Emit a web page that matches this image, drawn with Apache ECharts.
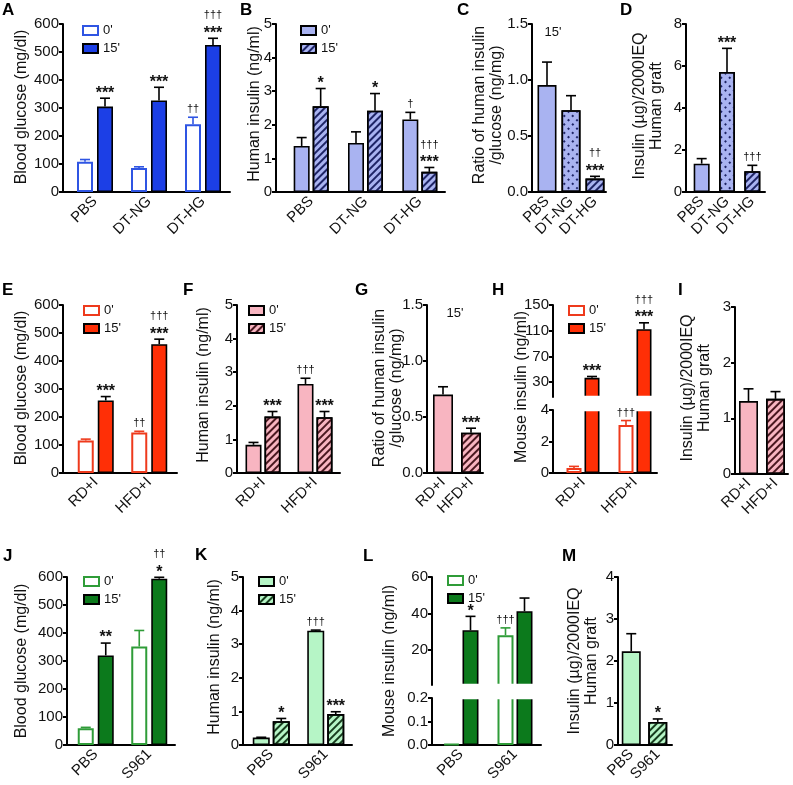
<!DOCTYPE html>
<html><head><meta charset="utf-8">
<script src="https://cdn.jsdelivr.net/npm/echarts@6/dist/echarts.min.js"></script>
<style>html,body{margin:0;padding:0;background:#fff}#c{width:793px;height:785px}</style>
</head><body><div id="c"></div>
<script>
// ================= DATA =================
// Panel A
const catsDT = ['PBS', 'DT-NG', 'DT-HG'];
const ticksGlu = [0, 100, 200, 300, 400, 500, 600];
const gluA0 = [108, 86, 242];
const gluA0Err = [8, 4, 25];
const gluA15 = [305, 327, 525];
const gluA15Err = [30, 47, 24];
const sigA0 = [[], [], ['††']];
const sigA15 = [['***'], ['***'], ['***', '†††']];
// Panel B
const ticksIns = [0, 1, 2, 3, 4, 5];
const insB0 = [1.37, 1.46, 2.16];
const insB0Err = [0.25, 0.33, 0.21];
const insB15 = [2.55, 2.42, 0.60];
const insB15Err = [0.53, 0.51, 0.13];
const sigB0 = [[], [], ['†']];
const sigB15 = [['*'], ['*'], ['***', '†††']];
// Panel C
const ticksRatio = [0, 0.5, 1.0, 1.5];
const ratioC = [0.955, 0.73, 0.12];
const ratioCErr = [0.205, 0.13, 0.02];
const sigC = [[], [], ['***', '††']];
// Panel D
const ticksD = [0, 2, 4, 6, 8];
const graftD = [1.35, 5.72, 0.99];
const graftDErr = [0.24, 1.12, 0.28];
const sigD = [[], ['***'], ['†††']];
// Panel E
const catsDiet = ['RD+I', 'HFD+I'];
const gluE0 = [116, 145];
const gluE0Err = [5, 4];
const gluE15 = [259, 460];
const gluE15Err = [14, 18];
const sigE0 = [[], ['††']];
const sigE15 = [['***'], ['***', '†††']];
// Panel F
const insF0 = [0.84, 2.65];
const insF0Err = [0.07, 0.17];
const insF15 = [1.68, 1.66];
const insF15Err = [0.15, 0.17];
const sigF0 = [[], ['†††']];
const sigF15 = [['***'], ['***']];
// Panel G
const ratioG = [0.70, 0.36];
const ratioGErr = [0.07, 0.04];
const sigG = [[], ['***']];
// Panel H (broken axis)
const ticksHUpper = [30, 70, 110, 150];
const ticksHLower = [0, 2, 4];
const mouseH0 = [0.32, 3.05];
const mouseH0Err = [0.10, 0.28];
const mouseH15 = [36.8, 112.4];
const mouseH15Err = [2.1, 9.9];
const sigH0 = [[], ['†††']];
const sigH15 = [['***'], ['***', '†††']];
// Panel I
const ticksI = [0, 1, 2, 3];
const graftI = [1.31, 1.35];
const graftIErr = [0.22, 0.13];
// Panel J
const catsS = ['PBS', 'S961'];
const gluJ0 = [60, 352];
const gluJ0Err = [3, 57];
const gluJ15 = [320, 594];
const gluJ15Err = [44, 5];
const sigJ15 = [['**'], ['*', '††']];
// Panel K
const insK0 = [0.22, 3.40];
const insK0Err = [0.01, 0.02];
const insK15 = [0.71, 0.92];
const insK15Err = [0.08, 0.07];
const sigK0 = [[], ['†††']];
const sigK15 = [['*'], ['***']];
// Panel L (broken axis)
const ticksLUpper = [20, 40, 60];
const ticksLLower = [0, 0.1, 0.2];
const mouseL0 = [0.005, 28.2];
const mouseL0Err = [0, 4.0];
const mouseL15 = [30.9, 41.3];
const mouseL15Err = [7.6, 7.2];
const sigL0 = [[], ['†††']];
const sigL15 = [['*'], []];
// Panel M
const ticksM = [0, 1, 2, 3, 4];
const graftM = [2.23, 0.55];
const graftMErr = [0.42, 0.07];
const sigM = [[], ['*']];

// ================= STYLE =================
const FONT = 'Liberation Sans';
const blue = '#1c3fe6', blueLine = '#2f55e3', peri = '#a9b3f1', periInk = '#1e2466';
const red = '#ff2f06', redLine = '#ee3a1c', pink = '#f8b5c1', pinkInk = '#4a1820';
const green = '#0c7a1c', greenLine = '#2f9c38', lgreen = '#b6f5c6', lgreenInk = '#173d1e';
function hatch(c) { return { symbol: 'rect', symbolSize: 1, dashArrayX: [1, 0], dashArrayY: [1.3, 2.7], rotation: -Math.PI / 4, color: c }; }
function dots(c) { return { symbol: 'rect', symbolSize: 1, dashArrayX: [1.3, 3.7], dashArrayY: [1.3, 3.7], rotation: Math.PI / 4, color: c }; }
const solid = c => ({ color: c, borderColor: '#000', borderWidth: 1.6 });
const open = c => ({ color: '#fff', borderColor: c, borderWidth: 2 });

const grids = [], xAxes = [], yAxes = [], series = [], legends = [], graphics = [];

function errRenderer(b, slot) {
  return function (params, api) {
    const i = params.dataIndex;
    const v = b.vals[i];
    const e = b.errs ? b.errs[i] : 0;
    const base = api.coord([i, v]);
    const x = base[0] + slot;
    let yTop = base[1];
    const ec = b.errColor || '#000';
    const children = [];
    if (e) {
      const top = api.coord([i, v + e]);
      yTop = top[1];
      children.push({ type: 'line', shape: { x1: x, y1: base[1], x2: x, y2: yTop }, style: { stroke: ec, lineWidth: 1.6 } });
      children.push({ type: 'line', shape: { x1: x - 5, y1: yTop, x2: x + 5, y2: yTop }, style: { stroke: ec, lineWidth: 1.6 } });
    }
    const mk = (b.marks && b.marks[i]) || [];
    let c = yTop - 8;
    mk.forEach(m => {
      const ast = m.indexOf('*') >= 0;
      children.push({ type: 'text', x: x, y: ast ? c + 3 : c,
        style: { text: m, fill: '#111', font: ast ? 'bold 16px ' + FONT : '11px ' + FONT, align: 'center', verticalAlign: 'middle' } });
      c -= 15;
    });
    return { type: 'group', children };
  };
}

function addGridAxes(g, x, y) { grids.push(g); xAxes.push(Object.assign({ gridIndex: grids.length - 1 }, x)); yAxes.push(Object.assign({ gridIndex: grids.length - 1 }, y)); return grids.length - 1; }

function panel(o) {
  const fmt = o.fmt || (v => String(v));
  const g = addGridAxes(
    { left: o.left, top: o.top, width: o.right - o.left, height: o.bottom - o.top },
    { type: 'category', data: o.cats, axisLine: { show: false }, axisTick: { show: false },
      axisLabel: { show: !o.hideX, rotate: 45, interval: 0, fontSize: 15, color: '#111', fontFamily: FONT, margin: 7 } },
    { type: 'value', min: o.min, max: o.max, offset: o.left - o.axisX,
      axisLine: { show: true, onZero: false, lineStyle: { color: '#000', width: 2 } },
      axisTick: { show: true, length: 4, customValues: o.ticks, lineStyle: { color: '#000', width: 2 } },
      axisLabel: { customValues: o.ticks, fontSize: 15, color: '#111', fontFamily: FONT, margin: 4, formatter: fmt },
      splitLine: { show: false } });
  if (!o.hideX) {
    addGridAxes(
      { left: o.axisX, top: o.bottom - 10, width: o.frameRight - o.axisX, height: 10 },
      { type: 'value', min: 0, max: 1, axisLine: { show: true, onZero: false, lineStyle: { color: '#000', width: 2 } }, axisTick: { show: false }, axisLabel: { show: false }, splitLine: { show: false } },
      { type: 'value', show: false, min: 0, max: 1 });
  }
  const n = o.bars.length;
  o.bars.forEach((b, k) => {
    const slot = n === 1 ? 0 : (k === 0 ? -1 : 1) * (o.bw + (o.gap || 0)) / 2;
    const data = b.vals.map((v, i) => (b.itemDecals && b.itemDecals[i]) ? { value: v, itemStyle: { decal: b.itemDecals[i] } } : v);
    const st = Object.assign({}, b.style);
    if (b.decal) st.decal = b.decal;
    series.push({ type: 'bar', name: b.name, xAxisIndex: g, yAxisIndex: g, data, barWidth: o.bw,
      barGap: ((o.gap || 0) / o.bw * 100) + '%', itemStyle: st, clip: true, silent: true, animation: false, z: 2 });
    if (b.errs || b.marks) {
      series.push({ type: 'custom', xAxisIndex: g, yAxisIndex: g, clip: false, silent: true, z: 5, animation: false,
        data: b.vals.map((v, i) => [i, v]), renderItem: errRenderer(b, slot) });
    }
  });
}

// white band over the axis break (hides clipped bar edges)
function breakBand(axisX, right, y1, y2) {
  graphics.push({ type: 'rect', z: 4, silent: true, shape: { x: axisX + 1.5, y: y1 - 1.2, width: right - axisX, height: y2 - y1 + 2.4 }, style: { fill: '#fff' } });
}
function legend(x, y, names) {
  legends.push({ left: x, top: y - 3, orient: 'vertical', padding: 0, itemWidth: 15, itemHeight: 9, itemGap: 5, icon: 'rect',
    selectedMode: false, data: names, formatter: nm => nm.endsWith('15') ? "15'" : "0'",
    textStyle: { fontSize: 13, color: '#111', fontFamily: FONT } });
}
function title(x, y, text) {
  graphics.push({ type: 'text', x, y, rotation: Math.PI / 2, style: { text, font: '16px ' + FONT, fill: '#111', align: 'center', verticalAlign: 'middle', lineHeight: 17 } });
}
function letter(x, y, text) {
  graphics.push({ type: 'text', x, y: y - 3, style: { text, font: 'bold 17px ' + FONT, fill: '#000', align: 'left', verticalAlign: 'top' } });
}
function note(x, y, text) {
  graphics.push({ type: 'text', x, y, style: { text, font: '13px ' + FONT, fill: '#111', align: 'center', verticalAlign: 'middle' } });
}
const f1 = v => v.toFixed(1);

// ---- Row 1 ----
panel({ axisX: 63, left: 68, right: 230, frameRight: 230, top: 24, bottom: 192, min: 0, max: 600, ticks: ticksGlu, cats: catsDT, bw: 16, gap: 4,
  bars: [{ name: 'A0', vals: gluA0, errs: gluA0Err, marks: sigA0, style: open(blueLine), errColor: blueLine },
         { name: 'A15', vals: gluA15, errs: gluA15Err, marks: sigA15, style: solid(blue) }] });
legend(82, 27, ['A0', 'A15']);
panel({ axisX: 276, left: 284, right: 447, frameRight: 445, top: 24, bottom: 192, min: 0, max: 5, ticks: ticksIns, cats: catsDT, bw: 16, gap: 3,
  bars: [{ name: 'B0', vals: insB0, errs: insB0Err, marks: sigB0, style: solid(peri) },
         { name: 'B15', vals: insB15, errs: insB15Err, marks: sigB15, style: solid(peri), decal: hatch(periInk) }] });
legend(300, 27, ['B0', 'B15']);
panel({ axisX: 532, left: 535, right: 607, frameRight: 606, top: 24, bottom: 192, min: 0, max: 1.5, ticks: ticksRatio, fmt: f1, cats: catsDT, bw: 19,
  bars: [{ name: 'C', vals: ratioC, errs: ratioCErr, marks: sigC, style: solid(peri), itemDecals: [null, dots(periInk), hatch(periInk)] }] });
note(553, 32, "15'");
panel({ axisX: 686, left: 689, right: 765, frameRight: 765, top: 24, bottom: 192, min: 0, max: 8, ticks: ticksD, cats: catsDT, bw: 16,
  bars: [{ name: 'D', vals: graftD, errs: graftDErr, marks: sigD, style: solid(peri), itemDecals: [null, dots(periInk), hatch(periInk)] }] });

// ---- Row 2 ----
panel({ axisX: 63, left: 69, right: 176, frameRight: 177, top: 305, bottom: 473, min: 0, max: 600, ticks: ticksGlu, cats: catsDiet, bw: 16, gap: 4,
  bars: [{ name: 'E0', vals: gluE0, errs: gluE0Err, marks: sigE0, style: open(redLine), errColor: redLine },
         { name: 'E15', vals: gluE15, errs: gluE15Err, marks: sigE15, style: solid(red) }] });
legend(83, 307, ['E0', 'E15']);
panel({ axisX: 237, left: 237, right: 341, frameRight: 340, top: 305, bottom: 473, min: 0, max: 5, ticks: ticksIns, cats: catsDiet, bw: 16, gap: 3,
  bars: [{ name: 'F0', vals: insF0, errs: insF0Err, marks: sigF0, style: solid(pink) },
         { name: 'F15', vals: insF15, errs: insF15Err, marks: sigF15, style: solid(pink), decal: hatch(pinkInk) }] });
legend(248, 307, ['F0', 'F15']);
panel({ axisX: 427, left: 429, right: 485, frameRight: 483, top: 305, bottom: 473, min: 0, max: 1.5, ticks: ticksRatio, fmt: f1, cats: catsDiet, bw: 20,
  bars: [{ name: 'G', vals: ratioG, errs: ratioGErr, marks: sigG, style: solid(pink), itemDecals: [null, hatch(pinkInk)] }] });
note(455, 313, "15'");
panel({ axisX: 553, left: 557, right: 661, top: 305, bottom: 397, min: 7, max: 150, ticks: ticksHUpper, cats: catsDiet, bw: 15, gap: 3, hideX: true,
  bars: [{ name: 'H0', vals: mouseH0, style: open(redLine) },
         { name: 'H15', vals: mouseH15, errs: mouseH15Err, marks: sigH15, style: solid(red) }] });
panel({ axisX: 553, left: 557, right: 661, frameRight: 657, top: 410, bottom: 473, min: 0, max: 4, ticks: ticksHLower, cats: catsDiet, bw: 15, gap: 3,
  bars: [{ name: 'H0', vals: mouseH0, errs: mouseH0Err, marks: sigH0, style: open(redLine), errColor: redLine },
         { name: 'H15', vals: mouseH15, style: solid(red) }] });
breakBand(553, 661, 397, 410);
legend(568, 307, ['H0', 'H15']);
panel({ axisX: 735, left: 735, right: 789, frameRight: 788, top: 307, bottom: 474, min: 0, max: 3, ticks: ticksI, cats: catsDiet, bw: 19,
  bars: [{ name: 'I', vals: graftI, errs: graftIErr, style: solid(pink), itemDecals: [null, hatch(pinkInk)] }] });

// ---- Row 3 ----
panel({ axisX: 67, left: 69, right: 176, frameRight: 175, top: 577, bottom: 745, min: 0, max: 600, ticks: ticksGlu, cats: catsS, bw: 16, gap: 4,
  bars: [{ name: 'J0', vals: gluJ0, errs: gluJ0Err, style: open(greenLine), errColor: greenLine },
         { name: 'J15', vals: gluJ15, errs: gluJ15Err, marks: sigJ15, style: solid(green) }] });
legend(83, 578, ['J0', 'J15']);
panel({ axisX: 243, left: 244, right: 353, frameRight: 352, top: 577, bottom: 745, min: 0, max: 5, ticks: ticksIns, cats: catsS, bw: 17, gap: 3,
  bars: [{ name: 'K0', vals: insK0, errs: insK0Err, marks: sigK0, style: solid(lgreen) },
         { name: 'K15', vals: insK15, errs: insK15Err, marks: sigK15, style: solid(lgreen), decal: hatch(lgreenInk) }] });
legend(258, 578, ['K0', 'K15']);
panel({ axisX: 432, left: 434, right: 542, top: 577, bottom: 685, min: 1, max: 60, ticks: ticksLUpper, cats: catsS, bw: 16, gap: 3, hideX: true,
  bars: [{ name: 'L0', vals: mouseL0, errs: mouseL0Err, marks: sigL0, style: open(greenLine), errColor: greenLine },
         { name: 'L15', vals: mouseL15, errs: mouseL15Err, marks: sigL15, style: solid(green) }] });
panel({ axisX: 432, left: 434, right: 542, frameRight: 541, top: 698, bottom: 745, min: 0, max: 0.2, ticks: ticksLLower, fmt: f1, cats: catsS, bw: 16, gap: 3,
  bars: [{ name: 'L0', vals: mouseL0, style: open(greenLine) },
         { name: 'L15', vals: mouseL15, style: solid(green) }] });
breakBand(432, 542, 685, 698);
legend(447, 577, ['L0', 'L15']);
panel({ axisX: 618, left: 618, right: 671, frameRight: 672, top: 577, bottom: 745, min: 0, max: 4, ticks: ticksM, cats: catsS, bw: 19,
  bars: [{ name: 'M', vals: graftM, errs: graftMErr, marks: sigM, style: solid(lgreen), itemDecals: [null, hatch(lgreenInk)] }] });

// ---- titles & letters ----
title(22, 107, 'Blood glucose (mg/dl)');
title(255, 104, 'Human insulin (ng/ml)');
title(488, 105, 'Ratio of human insulin\n/glucose (ng/mg)');
title(648, 106, 'Insulin (µg)/2000IEQ\nHuman graft');
title(22, 388, 'Blood glucose (mg/dl)');
title(204, 385, 'Human insulin (ng/ml)');
title(388, 388, 'Ratio of human insulin\n/glucose (ng/mg)');
title(522, 387, 'Mouse insulin (ng/ml)');
title(696, 388, 'Insulin (µg)/2000IEQ\nHuman graft');
title(22, 661, 'Blood glucose (mg/dl)');
title(215, 657, 'Human insulin (ng/ml)');
title(390, 661, 'Mouse insulin (ng/ml)');
title(583, 661, 'Insulin (µg)/2000IEQ\nHuman graft');
[['A', 2, 5], ['B', 240, 5], ['C', 457, 5], ['D', 620, 5], ['E', 2, 285], ['F', 183, 285], ['G', 355, 285], ['H', 492, 285], ['I', 678, 285],
 ['J', 3, 551], ['K', 195, 550], ['L', 363, 551], ['M', 562, 551]].forEach(a => letter(a[1], a[2], a[0]));

const chart = echarts.init(document.getElementById('c'), null, { renderer: 'canvas' });
chart.setOption({
  animation: false,
  backgroundColor: '#fff',
  textStyle: { fontFamily: FONT },
  grid: grids, xAxis: xAxes, yAxis: yAxes, series, legend: legends, graphic: graphics
});
</script></body></html>
